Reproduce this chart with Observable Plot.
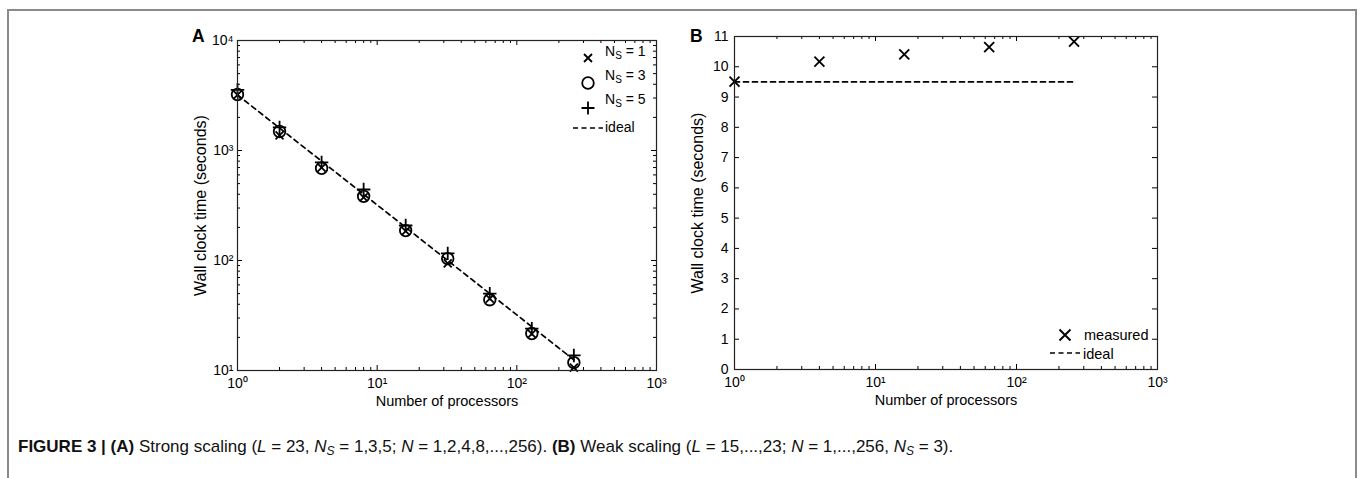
<!DOCTYPE html>
<html>
<head>
<meta charset="utf-8">
<script src="https://cdn.jsdelivr.net/npm/d3@7"></script>
<script src="https://cdn.jsdelivr.net/npm/@observablehq/plot@0.6"></script>
<style>
  html, body { margin:0; padding:0; background:#fff; }
  body { width:1360px; height:478px; position:relative; overflow:hidden; font-family:"Liberation Sans", Arial, sans-serif; }
  #frame { position:absolute; left:7px; top:9px; width:1346px; height:520px; border:2px solid #8a8a8a; border-bottom:none; }
  .panel { position:absolute; }
  #pa { left:150px; top:15px; }
  #pb { left:650px; top:15px; }
  #overlay { position:absolute; left:0; top:0; pointer-events:none; }
  #caption { position:absolute; left:18px; top:437px; font-family:"Liberation Sans",Arial,sans-serif; font-size:17px; color:#111; white-space:nowrap; }
  #caption b { font-weight:bold; }
  #caption sub { font-size:12px; vertical-align:-3px; line-height:0; }
</style>
</head>
<body>
<div id="frame"></div>
<div id="pa" class="panel"></div>
<div id="pb" class="panel"></div>
<svg id="overlay" width="1360" height="478" font-family="Liberation Sans, Arial, sans-serif" fill="#000">
  <!-- panel letters -->
  <text x="192" y="42" font-size="17.5" font-weight="bold">A</text>
  <text x="690" y="42" font-size="17.5" font-weight="bold">B</text>
  <!-- legend A -->
  <g stroke="#000" stroke-width="1.8" fill="none">
    <path d="M584,54L592,62M584,62L592,54"/>
    <circle cx="588" cy="83" r="5.8"/>
    <path d="M581.5,108H594.5M588,101.5V114.5"/>
    <path d="M573,128H603" stroke-dasharray="5,3.5" stroke-width="1.6"/>
  </g>
  <g font-size="14">
    <text x="605" y="56">N<tspan font-size="10" dy="3">S</tspan><tspan dy="-3"> = 1</tspan></text>
    <text x="605" y="80">N<tspan font-size="10" dy="3">S</tspan><tspan dy="-3"> = 3</tspan></text>
    <text x="605" y="104">N<tspan font-size="10" dy="3">S</tspan><tspan dy="-3"> = 5</tspan></text>
    <text x="605" y="132">ideal</text>
  </g>
  <!-- legend B -->
  <g stroke="#000" stroke-width="1.9" fill="none">
    <path d="M1059.5,329.5L1070.5,340.5M1059.5,340.5L1070.5,329.5"/>
    <path d="M1050,353H1080" stroke-dasharray="5,3.5" stroke-width="1.6"/>
  </g>
  <g font-size="14.5">
    <text x="1084" y="340">measured</text>
    <text x="1083" y="359">ideal</text>
  </g>
</svg>
<div id="caption"><b>FIGURE 3 | (A)</b> Strong scaling (<i>L</i> = 23, <i>N<sub>S</sub></i> = 1,3,5; <i>N</i> = 1,2,4,8,...,256). <b>(B)</b> Weak scaling (<i>L</i> = 15,...,23; <i>N</i> = 1,...,256, <i>N<sub>S</sub></i> = 3).</div>
<script>
// ---------- data ----------
const nProc = [1, 2, 4, 8, 16, 32, 64, 128, 256];
const timeNs1 = [3200, 1370, 700, 375, 185, 94, 45, 21.5, 10.6];
const timeNs3 = [3230, 1490, 690, 383, 187, 104, 44, 21.7, 11.8];
const timeNs5 = [3560, 1620, 780, 442, 208, 116, 50, 24, 13.7];
const idealAx = [1, 256];
const idealAy = [3200, 12.5];

const nProcB = [1, 4, 16, 64, 256];
const measuredB = [9.51, 10.17, 10.41, 10.65, 10.83];
const idealBx = [1, 256];
const idealBy = [9.5, 9.5];

const xMajor = [1, 10, 100, 1000];
const yMajorA = [10, 100, 1000, 10000];
const yTicksB = [0, 1, 2, 3, 4, 5, 6, 7, 8, 9, 10, 11];

// ---------- helpers ----------
const supDigits = {"0":"⁰","1":"¹","2":"²","3":"³","4":"⁴"};
const pow10Label = d => "10" + supDigits[String(Math.round(Math.log10(d)))];
function minorLog(lo, hi) {
  const t = [];
  for (let e = lo; e < hi; e++) for (let m = 2; m <= 9; m++) t.push(m * Math.pow(10, e));
  return t;
}
const xMinor = minorLog(0, 3);
const yMinorA = minorLog(1, 4);

const FONT = "Liberation Sans, Arial, sans-serif";
const style = {fontFamily: FONT, fontSize: "14px", color: "#000", background: "transparent", overflow: "visible"};

function innerTicksX(vals, len, innerH) {
  return [
    Plot.tickX(vals, {x: d => d, insetTop: innerH - len, stroke: "#000", strokeWidth: 1}),
    Plot.tickX(vals, {x: d => d, insetBottom: innerH - len, stroke: "#000", strokeWidth: 1})
  ];
}
function innerTicksY(vals, len, innerW) {
  return [
    Plot.tickY(vals, {y: d => d, insetRight: innerW - len, stroke: "#000", strokeWidth: 1}),
    Plot.tickY(vals, {y: d => d, insetLeft: innerW - len, stroke: "#000", strokeWidth: 1})
  ];
}
function axisTitles() {
  return [
    Plot.text(["Number of processors"], {text: d => d, frameAnchor: "bottom", lineAnchor: "middle", textAnchor: "middle", dy: 31, fontSize: 14.5, fill: "#000"}),
    Plot.text(["Wall clock time (seconds)"], {text: d => d, frameAnchor: "left", lineAnchor: "middle", textAnchor: "middle", rotate: -90, dx: -37, fontSize: 16, fill: "#000"})
  ];
}

// ---------- panel A ----------
const A = {w: 520, h: 400, ml: 87, mr: 14, mt: 25, mb: 45};
const AiW = A.w - A.ml - A.mr, AiH = A.h - A.mt - A.mb;
const idealAData = idealAx.map((x, i) => ({x, y: idealAy[i]}));

const plotA = Plot.plot({
  width: A.w, height: A.h,
  marginLeft: A.ml, marginRight: A.mr, marginTop: A.mt, marginBottom: A.mb,
  style,
  x: {type: "log", domain: [1, 1000]},
  y: {type: "log", domain: [10, 10000]},
  marks: [
    ...innerTicksX(xMajor, 5, AiH),
    ...innerTicksX(xMinor, 3, AiH),
    ...innerTicksY(yMajorA, 5, AiW),
    ...innerTicksY(yMinorA, 3, AiW),
    Plot.axisX(xMajor, {tickSize: 0, tickPadding: 8, tickFormat: pow10Label, label: null, fontSize: 14}),
    Plot.axisY(yMajorA, {tickSize: 0, tickPadding: 4, tickFormat: pow10Label, label: null, fontSize: 14}),
    Plot.line(idealAData, {x: "x", y: "y", stroke: "#000", strokeWidth: 1.7, strokeDasharray: "5,4"}),
    Plot.dot(nProc, {x: d => d, y: (d, i) => timeNs3[i], symbol: "circle", r: 5.8, stroke: "#000", strokeWidth: 1.8, fill: "none"}),
    Plot.dot(nProc, {x: d => d, y: (d, i) => timeNs1[i], symbol: "times", r: 3.7, stroke: "#000", strokeWidth: 1.8}),
    Plot.dot(nProc, {x: d => d, y: (d, i) => timeNs5[i], symbol: "plus", r: 4.4, stroke: "#000", strokeWidth: 1.8}),
    ...axisTitles(),
    Plot.frame({stroke: "#222", strokeWidth: 1.2})
  ]
});
document.getElementById("pa").appendChild(plotA);

// ---------- panel B ----------
const B = {w: 530, h: 400, ml: 84, mr: 23, mt: 21, mb: 46};
const BiW = B.w - B.ml - B.mr, BiH = B.h - B.mt - B.mb;
const idealBData = idealBx.map((x, i) => ({x, y: idealBy[i]}));

const plotB = Plot.plot({
  width: B.w, height: B.h,
  marginLeft: B.ml, marginRight: B.mr, marginTop: B.mt, marginBottom: B.mb,
  style,
  x: {type: "log", domain: [1, 1000]},
  y: {type: "linear", domain: [0, 11]},
  marks: [
    ...innerTicksX(xMajor, 5, BiH),
    ...innerTicksX(xMinor, 3, BiH),
    ...innerTicksY(yTicksB, 5, BiW),
    Plot.axisX(xMajor, {tickSize: 0, tickPadding: 8, tickFormat: pow10Label, label: null, fontSize: 14}),
    Plot.axisY(yTicksB, {tickSize: 0, tickPadding: 6, tickFormat: d => String(d), label: null, fontSize: 14}),
    Plot.line(idealBData, {x: "x", y: "y", stroke: "#000", strokeWidth: 1.7, strokeDasharray: "5,4"}),
    Plot.dot(nProcB, {x: d => d, y: (d, i) => measuredB[i], symbol: "times", r: 4.6, stroke: "#000", strokeWidth: 1.9}),
    ...axisTitles(),
    Plot.frame({stroke: "#222", strokeWidth: 1.2})
  ]
});
document.getElementById("pb").appendChild(plotB);
</script>
</body>
</html>
